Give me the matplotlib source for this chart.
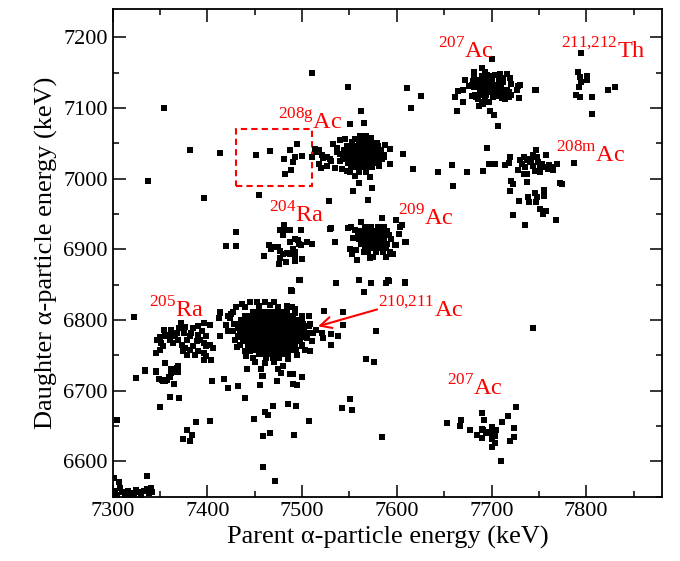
import matplotlib
matplotlib.use('Agg')
import matplotlib.pyplot as plt
import matplotlib.patches as patches
from matplotlib.ticker import MultipleLocator

plt.rcParams['font.family'] = ['Liberation Serif', 'DejaVu Serif']
plt.rcParams['mathtext.fontset'] = 'custom'
plt.rcParams['mathtext.rm'] = 'Liberation Serif'

# (parent keV, daughter keV), grouped by region
scattered = [
    (7510, 7149), (7548, 7130), (7354, 7100), (7562, 7096), (7551, 7077), (7565, 7079),
    (7382, 7040), (7413, 7036), (7337, 6997), (7396, 6973), (7455, 6977), (7528, 6968),
    (7554, 6982), (7574, 6987), (7570, 6970), (7560, 6994),
    (7611, 7128), (7615, 7100), (7626, 7117), (7747, 7126), (7700, 7169),
    (7593, 7021), (7607, 7035), (7617, 7013), (7644, 7009), (7658, 7019), (7659, 6990),
    (7674, 7009), (7691, 7011), (7695, 7044), (7697, 7021), (7704, 7021), (7714, 7019),
    (7718, 7022), (7720, 7030), (7787, 7022),
    (7531, 6930), (7535, 6911), (7536, 6853), (7560, 6856), (7573, 6853), (7592, 6855),
    (7609, 6853), (7595, 6894), (7599, 6906), (7609, 6910), (7609, 6854), (7744, 6788),
    (7420, 6904), (7430, 6904), (7460, 6890), (7497, 6856), (7488, 6841), (7536, 6853),
    (7560, 6856), (7565, 6839), (7589, 6852), (7591, 6856), (7523, 6813), (7543, 6812),
    (7543, 6793), (7538, 6777), (7531, 6780), (7522, 6774), (7530, 6765), (7578, 6785),
    (7567, 6745), (7576, 6740), (7542, 6675), (7551, 6688), (7553, 6672), (7584, 6635),
    (7323, 6804), (7325, 6718), (7334, 6728), (7346, 6727), (7349, 6716), (7352, 6715),
    (7355, 6713), (7359, 6720), (7362, 6725), (7367, 6727), (7369, 6735), (7365, 6710),
    (7360, 6691), (7370, 6690), (7350, 6677), (7355, 6739), (7305, 6658), (7378, 6644),
    (7388, 6655), (7384, 6638), (7374, 6631), (7382, 6629), (7403, 6657), (7405, 6713),
    (7418, 6716), (7422, 6704), (7432, 6706), (7440, 6690), (7442, 6731), (7449, 6660),
    (7456, 6708), (7458, 6721), (7461, 6670), (7464, 6665), (7469, 6679), (7473, 6713),
    (7459, 6636), (7466, 6640), (7485, 6681), (7494, 6678), (7491, 6638), (7490, 6724),
    (7490, 6710), (7495, 6708), (7500, 6720), (7507, 6657), (7459, 6592), (7471, 6572),
]

corner = [
    (7301, 6576), (7307, 6571), (7308, 6563), (7302, 6558), (7305, 6553), (7310, 6556),
    (7313, 6552), (7316, 6558), (7320, 6555), (7323, 6552), (7327, 6556), (7330, 6553),
    (7333, 6558), (7336, 6561), (7338, 6555), (7340, 6563), (7342, 6557), (7336, 6579),
    (7318, 6553), (7325, 6560),
]

ac208g = [
    (7451, 7033), (7466, 7039), (7487, 7040), (7495, 7049), (7481, 7028), (7493, 7030),
    (7500, 7032), (7490, 7024), (7488, 7012), (7482, 7007), (7510, 7030),
]

ac208g_big = [
    (7514, 7042), (7515, 7037), (7518, 7041), (7521, 7033), (7522, 7029), (7524, 7030),
    (7526, 7030), (7529, 7028), (7531, 7025), (7518, 7021), (7520, 7015), (7526, 7018),
    (7535, 7015), (7533, 7049), (7537, 7044), (7540, 7054), (7545, 7056), (7537, 7038),
    (7540, 7035), (7540, 7025), (7542, 7014), (7547, 7011), (7551, 7009), (7556, 7004),
    (7572, 7002), (7581, 7018), (7586, 7030), (7593, 7042), (7593, 7021), (7588, 7047),
    (7573, 7058), (7568, 7061), (7579, 7051), (7556, 7056), (7561, 7061),
    (7553, 7052), (7560, 7052), (7566, 7052), (7573, 7052),
    (7547, 7046), (7552, 7046), (7558, 7046), (7563, 7046), (7569, 7046), (7575, 7046), (7580, 7046),
    (7544, 7040), (7549, 7040), (7555, 7040), (7560, 7040), (7566, 7040), (7571, 7040), (7577, 7040), (7583, 7040),
    (7543, 7034), (7548, 7034), (7554, 7034), (7559, 7034), (7565, 7034), (7570, 7034), (7576, 7034), (7581, 7034), (7587, 7034),
    (7545, 7028), (7550, 7028), (7556, 7028), (7561, 7028), (7567, 7028), (7572, 7028), (7578, 7028), (7584, 7028),
    (7548, 7022), (7553, 7022), (7559, 7022), (7564, 7022), (7570, 7022), (7575, 7022), (7581, 7022),
    (7552, 7016), (7558, 7016), (7563, 7016), (7569, 7016), (7574, 7016), (7560, 7010), (7567, 7010),
]

ac207_top = [
    (7690, 7157), (7693, 7151), (7682, 7151), (7681, 7144), (7672, 7140), (7686, 7140),
    (7690, 7145), (7695, 7146), (7698, 7145), (7704, 7146), (7709, 7148), (7716, 7148),
    (7712, 7142), (7720, 7142), (7721, 7134), (7728, 7131), (7730, 7133), (7727, 7126),
    (7746, 7126), (7665, 7124), (7670, 7125), (7661, 7116), (7670, 7109), (7664, 7096),
    (7679, 7132), (7684, 7133), (7688, 7129), (7683, 7119), (7679, 7117), (7684, 7115),
    (7691, 7118), (7693, 7112), (7690, 7108), (7687, 7103), (7691, 7105), (7697, 7108),
    (7698, 7096), (7703, 7090), (7707, 7075), (7702, 7115), (7706, 7117), (7711, 7114),
    (7714, 7112), (7718, 7115), (7721, 7119), (7729, 7114), (7698, 7131), (7702, 7129),
    (7707, 7133), (7712, 7136), (7716, 7126), (7718, 7122), (7695, 7138), (7700, 7139),
    (7691, 7136), (7688, 7122), (7697, 7122), (7704, 7122), (7709, 7124), (7693, 7126),
    (7686, 7136), (7681, 7129), (7684, 7138), (7689, 7134), (7694, 7131), (7700, 7134),
    (7705, 7129), (7698, 7127), (7689, 7121), (7694, 7118), (7710, 7128), (7702, 7120),
    (7686, 7112), (7708, 7140), (7712, 7120), (7680, 7138), (7676, 7131),
]

th211_212 = [
    (7794, 7178), (7791, 7151), (7793, 7144), (7801, 7145), (7801, 7140), (7794, 7136),
    (7792, 7129), (7789, 7118), (7793, 7115), (7806, 7116), (7806, 7092), (7823, 7125),
    (7830, 7129),
]

ac208m = [
    (7728, 7012), (7721, 6997), (7723, 6993), (7720, 6983), (7729, 6969), (7723, 6948),
    (7735, 6934), (7737, 6995), (7739, 6974), (7740, 6967), (7746, 6979), (7748, 6974),
    (7747, 6967), (7755, 6984), (7755, 6975), (7751, 6957), (7754, 6950), (7758, 6954),
    (7768, 6942), (7772, 6994), (7774, 6993), (7769, 7021), (7765, 7012), (7761, 7019),
    (7758, 7033), (7747, 7041), (7734, 7030), (7737, 7026), (7742, 7027), (7732, 7021),
    (7735, 7016), (7734, 7007), (7737, 7007), (7741, 7023), (7744, 7018), (7748, 7030),
    (7749, 7023), (7751, 7016), (7753, 7021), (7756, 7016), (7760, 7014), (7764, 7016),
    (7746, 7011), (7751, 7009), (7744, 7034), (7739, 7028), (7730, 7027),
]

ac209 = [
    (7570, 6970), (7549, 6930), (7552, 6931), (7556, 6927), (7562, 6939), (7584, 6944),
    (7599, 6942), (7606, 6934), (7603, 6932), (7602, 6922), (7610, 6910), (7598, 6906),
    (7593, 6896), (7596, 6893), (7589, 6889), (7575, 6889), (7572, 6887), (7558, 6885),
    (7553, 6893), (7551, 6901), (7557, 6899), (7554, 6916), (7565, 6896),
    (7566, 6932), (7573, 6932), (7580, 6932), (7587, 6932),
    (7561, 6926), (7567, 6926), (7572, 6926), (7578, 6926), (7584, 6926), (7590, 6926),
    (7559, 6920), (7564, 6920), (7570, 6920), (7575, 6920), (7581, 6920), (7586, 6920), (7592, 6920),
    (7560, 6914), (7565, 6914), (7571, 6914), (7576, 6914), (7582, 6914), (7587, 6914), (7594, 6914),
    (7562, 6908), (7568, 6908), (7573, 6908), (7579, 6908), (7584, 6908), (7590, 6908),
    (7566, 6902), (7571, 6902), (7577, 6902), (7583, 6902), (7589, 6902),
    (7570, 6896), (7578, 6896), (7585, 6896),
]

ra204 = [
    (7420, 6905), (7430, 6924), (7430, 6904), (7460, 6890), (7481, 6934), (7477, 6928),
    (7482, 6927), (7487, 6928), (7480, 6920), (7499, 6928), (7465, 6906), (7467, 6900),
    (7470, 6903), (7475, 6903), (7477, 6898), (7480, 6894), (7484, 6895), (7487, 6894),
    (7490, 6900), (7492, 6896), (7493, 6890), (7477, 6887), (7476, 6879), (7483, 6882),
    (7493, 6883), (7500, 6886), (7487, 6911), (7492, 6914), (7496, 6913), (7497, 6907),
    (7499, 6906), (7505, 6910), (7510, 6908), (7529, 6929), (7535, 6911), (7536, 6853),
    (7498, 6857), (7488, 6843), (7528, 6968),
]

ra205 = [
    (7413, 6810), (7422, 6805), (7427, 6812), (7412, 6803), (7396, 6796), (7403, 6793),
    (7390, 6792), (7372, 6796), (7385, 6788), (7394, 6784), (7376, 6790), (7375, 6781),
    (7368, 6782), (7362, 6786), (7359, 6779), (7355, 6777), (7350, 6776), (7347, 6772),
    (7351, 6767), (7353, 6763), (7350, 6757), (7346, 6754), (7360, 6772), (7364, 6767),
    (7369, 6772), (7373, 6765), (7376, 6760), (7374, 6756), (7378, 6751), (7382, 6758),
    (7385, 6763), (7389, 6770), (7392, 6772), (7396, 6767), (7399, 6763), (7403, 6765),
    (7406, 6760), (7390, 6756), (7396, 6753), (7399, 6749), (7396, 6744), (7404, 6744),
    (7387, 6751), (7382, 6777), (7378, 6772), (7366, 6777), (7370, 6788), (7390, 6779),
    (7399, 6777), (7383, 6781), (7354, 6786),
    (7334, 6729), (7346, 6728), (7355, 6739), (7362, 6731), (7368, 6732), (7369, 6727),
    (7349, 6716), (7353, 6713), (7357, 6715), (7361, 6720), (7365, 6709),
]

ac210_211 = [
    (7413, 6812), (7427, 6812), (7424, 6803), (7420, 6793), (7422, 6784), (7429, 6772),
    (7413, 6777), (7431, 6762), (7434, 6764), (7440, 6756), (7445, 6756), (7441, 6749),
    (7448, 6746), (7442, 6731), (7457, 6731), (7461, 6739), (7459, 6721), (7475, 6730),
    (7478, 6725), (7480, 6735), (7487, 6723), (7500, 6720), (7489, 6841), (7440, 6819),
    (7452, 6826), (7461, 6826), (7466, 6821), (7470, 6826), (7484, 6820), (7489, 6819),
    (7493, 6810), (7500, 6806), (7507, 6806), (7501, 6795), (7507, 6791), (7512, 6782),
    (7515, 6786), (7508, 6756), (7503, 6758), (7494, 6758), (7500, 6763), (7521, 6781),
    (7428, 6795), (7425, 6808), (7430, 6818), (7437, 6822), (7445, 6825), (7455, 6820),
    (7475, 6818), (7492, 6815), (7500, 6800), (7508, 6795), (7505, 6775), (7510, 6770),
    (7500, 6765), (7450, 6740), (7470, 6740), (7485, 6745), (7495, 6750), (7440, 6770),
    (7432, 6778), (7427, 6785),
    (7448, 6812), (7455, 6812), (7460, 6812), (7466, 6812), (7472, 6812), (7478, 6812), (7484, 6812),
    (7440, 6806), (7446, 6806), (7451, 6806), (7457, 6806), (7462, 6806), (7468, 6806), (7473, 6806),
    (7479, 6806), (7485, 6806), (7490, 6806),
    (7436, 6800), (7442, 6800), (7447, 6800), (7453, 6800), (7458, 6800), (7464, 6800), (7469, 6800),
    (7475, 6800), (7480, 6800), (7486, 6800), (7491, 6800), (7496, 6800),
    (7433, 6794), (7438, 6794), (7444, 6794), (7449, 6794), (7455, 6794), (7460, 6794), (7466, 6794),
    (7471, 6794), (7477, 6794), (7482, 6794), (7488, 6794), (7493, 6794), (7498, 6794),
    (7432, 6788), (7437, 6788), (7443, 6788), (7448, 6788), (7454, 6788), (7459, 6788), (7465, 6788),
    (7470, 6788), (7476, 6788), (7481, 6788), (7487, 6788), (7492, 6788), (7497, 6788), (7502, 6788),
    (7434, 6782), (7440, 6782), (7445, 6782), (7451, 6782), (7456, 6782), (7462, 6782), (7467, 6782),
    (7473, 6782), (7478, 6782), (7484, 6782), (7489, 6782), (7495, 6782), (7500, 6782), (7505, 6782),
    (7436, 6776), (7441, 6776), (7447, 6776), (7452, 6776), (7458, 6776), (7463, 6776), (7469, 6776),
    (7474, 6776), (7480, 6776), (7485, 6776), (7491, 6776), (7496, 6776), (7501, 6776),
    (7438, 6770), (7444, 6770), (7449, 6770), (7455, 6770), (7460, 6770), (7466, 6770), (7471, 6770),
    (7477, 6770), (7482, 6770), (7488, 6770), (7493, 6770), (7498, 6770),
    (7443, 6764), (7448, 6764), (7454, 6764), (7459, 6764), (7465, 6764), (7470, 6764), (7476, 6764),
    (7481, 6764), (7487, 6764), (7492, 6764),
    (7449, 6758), (7454, 6758), (7460, 6758), (7465, 6758), (7471, 6758), (7476, 6758), (7482, 6758),
    (7488, 6758),
    (7455, 6752), (7461, 6752), (7467, 6752), (7473, 6752), (7479, 6752), (7485, 6752),
    (7462, 6746), (7469, 6746), (7476, 6746),
]

ac207_low = [
    (7653, 6654), (7667, 6650), (7668, 6659), (7677, 6645), (7685, 6638), (7690, 6668),
    (7692, 6658), (7690, 6646), (7691, 6645), (7694, 6640), (7690, 6633), (7697, 6641),
    (7701, 6649), (7702, 6643), (7705, 6645), (7700, 6636), (7704, 6636), (7701, 6631),
    (7704, 6626), (7701, 6621), (7711, 6655), (7717, 6664), (7726, 6677), (7724, 6647),
    (7724, 6634), (7719, 6629), (7710, 6601),
]

groups = [scattered, corner, ac208g, ac208g_big, ac207_top, th211_212, ac208m,
          ac209, ra204, ra205, ac210_211, ac207_low]

# label text, anchor (keV, keV)
labels = [
    (r'$^{\mathrm{208g}}$Ac', 7475, 7070),
    (r'$^{\mathrm{207}}$Ac', 7644, 7170),
    (r'$^{\mathrm{211{,}212}}$Th', 7773, 7170),
    (r'$^{\mathrm{208m}}$Ac', 7768, 7023),
    (r'$^{\mathrm{204}}$Ra', 7465, 6938),
    (r'$^{\mathrm{209}}$Ac', 7601, 6934),
    (r'$^{\mathrm{205}}$Ra', 7338, 6803),
    (r'$^{\mathrm{210{,}211}}$Ac', 7580, 6804),
    (r'$^{\mathrm{207}}$Ac', 7653, 6693),
]

fig = plt.figure(figsize=(6.8, 5.61), dpi=100)
ax = fig.add_axes([0.1657, 0.1146, 0.8078, 0.8694])

for g in groups:
    xs = [p[0] for p in g]
    ys = [p[1] for p in g]
    ax.plot(xs, ys, 's', color='black', ms=4.0, mew=0, ls='none')

for txt, x, y in labels:
    ax.text(x, y, txt, color='red', fontsize=17.5, ha='left', va='baseline')

ax.annotate('', xy=(7514, 6790), xytext=(7582, 6816),
            arrowprops=dict(arrowstyle='->', color='red', lw=1.5, mutation_scale=20))

ax.add_patch(patches.Rectangle((7430, 6990), 80, 80, fill=False, ec='red',
                               ls=(0, (3, 2)), lw=1.5))

ax.set_xlim(7300, 7880)
ax.set_ylim(6550, 7240)
ax.xaxis.set_major_locator(MultipleLocator(100))
ax.xaxis.set_minor_locator(MultipleLocator(50))
ax.yaxis.set_major_locator(MultipleLocator(100))
ax.yaxis.set_minor_locator(MultipleLocator(50))
ax.tick_params(which='both', direction='in', top=True, right=True, width=1.1, labelsize=16)
ax.tick_params(which='major', length=9)
ax.tick_params(which='minor', length=4.5)
for s in ax.spines.values():
    s.set_linewidth(1.3)

ax.set_xlabel('Parent α-particle energy (keV)', fontsize=19)
ax.set_ylabel('Daughter α-particle energy (keV)', fontsize=19)

fig.savefig('out.png', dpi=100)
